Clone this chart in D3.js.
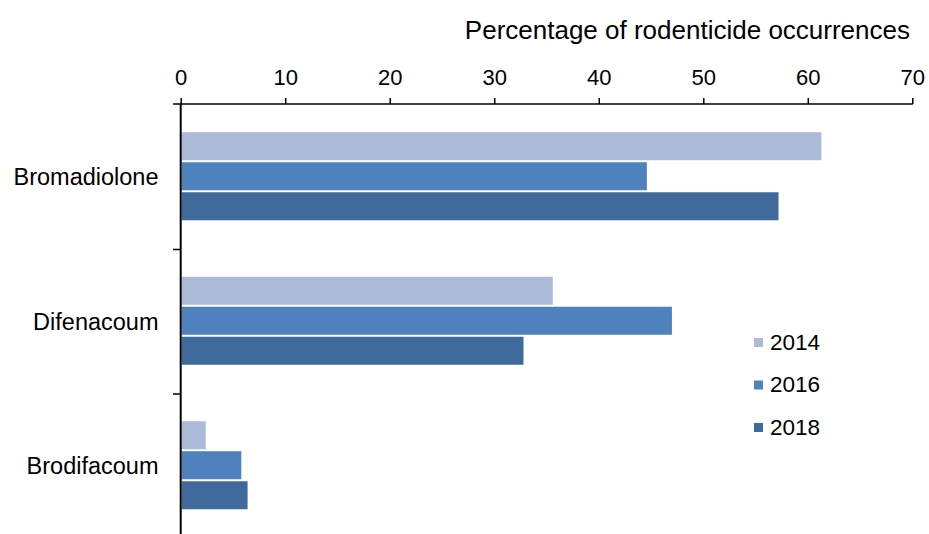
<!DOCTYPE html>
<html>
<head>
<meta charset="utf-8">
<script src="https://cdn.jsdelivr.net/npm/d3@7/dist/d3.min.js"></script>
<style>
  html, body { margin: 0; padding: 0; background: #fff; }
  svg text { font-family: "Liberation Sans", Arial, sans-serif; fill: #000; }
</style>
</head>
<body>
<svg id="chart" width="929" height="534"></svg>
<script>
// Rodenticide occurrence by compound and survey year
const compounds = ["Bromadiolone", "Difenacoum", "Brodifacoum"];
const years = ["2014", "2016", "2018"];
const values2014 = [61.3, 35.6, 2.4];
const values2016 = [44.6, 47.0, 5.8];
const values2018 = [57.2, 32.8, 6.4];
const xTicks = [0, 10, 20, 30, 40, 50, 60, 70];
const colors = ["#abbad9", "#4f81bd", "#416a9c"];
const axisTitle = "Percentage of rodenticide occurrences";

const series = [values2014, values2016, values2018];

const svg = d3.select("#chart");

const x = d3.scaleLinear().domain([0, 70]).range([180.7, 912.3]);
const y = d3.scaleBand().domain(compounds).range([105, 538.5]);
const sub = d3.scaleBand().domain(years).range([0, 90]);
const barH = 28;
const groupOffset = (y.bandwidth() - 90) / 2;

// bars
compounds.forEach((c, ci) => {
  years.forEach((yr, si) => {
    svg.append("rect")
      .attr("x", x(0) + 1)
      .attr("y", y(c) + groupOffset + sub(yr))
      .attr("width", x(series[si][ci]) - x(0) - 1)
      .attr("height", barH)
      .attr("fill", colors[si]);
  });
});

// top axis
const xAxis = d3.axisTop(x).tickValues(xTicks).tickSize(6).tickSizeOuter(0).tickPadding(13);
const gx = svg.append("g").attr("transform", "translate(0,104)").call(xAxis);
gx.select(".domain").remove();
gx.append("line").attr("x1", 173).attr("x2", x(70) + 0.5).attr("y1", 0).attr("y2", 0)
  .attr("stroke", "#000").attr("stroke-width", 1.5);
gx.selectAll(".tick line").attr("stroke", "#000").attr("stroke-width", 1.5);
gx.selectAll(".tick text").attr("font-size", 22).attr("font-family", "Liberation Sans, Arial, sans-serif").attr("fill", "#000");

// vertical axis
svg.append("line").attr("x1", x(0)).attr("x2", x(0)).attr("y1", 104).attr("y2", 534)
  .attr("stroke", "#000").attr("stroke-width", 2);
compounds.slice(1).forEach(c => {
  svg.append("line").attr("x1", 173).attr("x2", x(0)).attr("y1", y(c)).attr("y2", y(c))
    .attr("stroke", "#000").attr("stroke-width", 1.5);
});
svg.selectAll(".cat").data(compounds).enter().append("text")
  .attr("class", "cat")
  .attr("x", 158.5)
  .attr("y", d => y(d) + y.bandwidth() / 2 + 8)
  .attr("text-anchor", "end")
  .attr("font-size", 23.5)
  .text(d => d);

// axis title
svg.append("text").attr("x", 910).attr("y", 38.5).attr("text-anchor", "end")
  .attr("font-size", 26).text(axisTitle);

// legend
const legend = svg.append("g").attr("transform", "translate(754,342.5)");
years.forEach((yr, i) => {
  const g = legend.append("g").attr("transform", `translate(0,${i * 42.5})`);
  g.append("rect").attr("x", 0).attr("y", -4.5).attr("width", 9).attr("height", 9).attr("fill", colors[i]);
  g.append("text").attr("x", 16).attr("y", 7).attr("font-size", 22.5).text(yr);
});
</script>
</body>
</html>
